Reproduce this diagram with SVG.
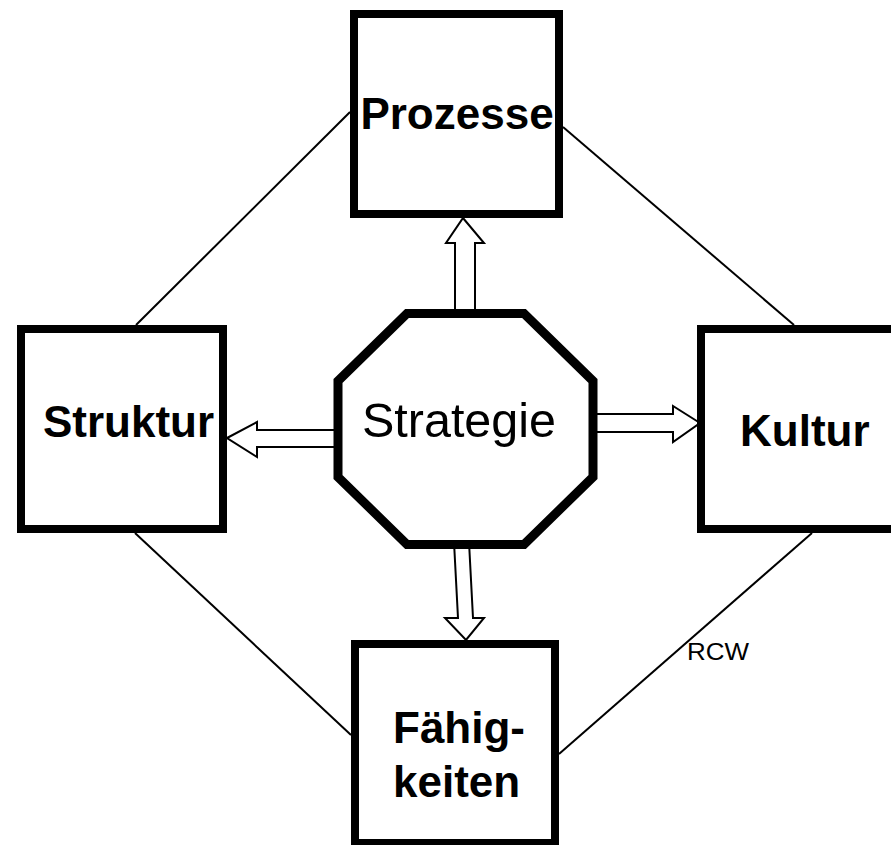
<svg xmlns="http://www.w3.org/2000/svg" width="891" height="845" viewBox="0 0 891 845">
<style>
.box{fill:#fff;stroke:#000;stroke-width:8}
.oct{fill:#fff;stroke:#000;stroke-width:9;stroke-linejoin:miter}
.link{stroke:#000;stroke-width:2;fill:none}
.arr{fill:#fff;stroke:#000;stroke-width:2;stroke-linejoin:miter}
.lbl{font-family:"Liberation Sans",Arial,sans-serif;font-weight:bold;font-size:44px;fill:#000}
.ctr{font-family:"Liberation Sans",Arial,sans-serif;font-size:48.5px;fill:#000}
.note{font-family:"Liberation Sans",Arial,sans-serif;font-size:23px;fill:#000}
</style>
<rect width="891" height="845" fill="#fff"/>
<g id="connectors">
<line class="link" x1="136" y1="325" x2="350" y2="112"/>
<line class="link" x1="563" y1="127" x2="794" y2="325"/>
<line class="link" x1="135" y1="533" x2="351" y2="735"/>
<line class="link" x1="812" y1="533" x2="559" y2="754"/>
<polygon class="arr" points="463,218 484,243 475,243 475,318 455,318 455,243 446,243"/>
<polygon class="arr" points="227,438 257,422 257,430 340,430 340,447 257,447 257,457"/>
<polygon class="arr" points="700,423 673,406 673,414 591,414 591,432 673,432 673,442"/>
<polygon class="arr" points="454,542 469,542 473,618 484,618 466,640 445,618 458,618"/>
</g>
<g id="prozesse">
<rect class="box" x="354" y="14" width="205" height="200"/>
<text class="lbl" x="457" y="129" text-anchor="middle">Prozesse</text>
</g>
<g id="struktur">
<rect class="box" x="21" y="329" width="202" height="200"/>
<text class="lbl" x="128.5" y="437" text-anchor="middle">Struktur</text>
</g>
<g id="kultur">
<rect class="box" x="701" y="329" width="220" height="200"/>
<text class="lbl" x="740" y="446">Kultur</text>
</g>
<g id="faehigkeiten">
<rect class="box" x="355" y="644" width="200" height="199"/>
<text class="lbl" x="393" y="743">Fähig-</text>
<text class="lbl" x="393" y="797">keiten</text>
</g>
<g id="strategie">
<polygon class="oct" points="407,313.5 524,313.5 593,381 593,477 524,544.5 407,544.5 338,477 338,381"/>
<text class="ctr" x="459" y="437" text-anchor="middle">Strategie</text>
</g>
<text class="note" x="687" y="660" textLength="62" lengthAdjust="spacingAndGlyphs">RCW</text>
</svg>
